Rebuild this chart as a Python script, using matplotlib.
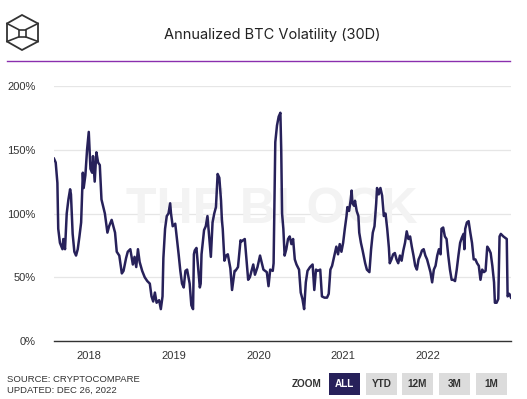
import numpy as np
import matplotlib.pyplot as plt
from matplotlib.patches import Rectangle, Polygon
from matplotlib.lines import Line2D

# data (decimal year, annualized volatility in %)
years = [2017.59, 2017.61, 2017.63, 2017.64, 2017.66, 2017.69, 2017.70, 2017.72, 2017.74, 2017.76,
         2017.78, 2017.79, 2017.80, 2017.81, 2017.83, 2017.85, 2017.87, 2017.89, 2017.91, 2017.93,
         2017.94, 2017.96, 2017.98, 2018.00, 2018.02, 2018.04, 2018.05, 2018.07, 2018.09, 2018.11,
         2018.13, 2018.15, 2018.19, 2018.22, 2018.24, 2018.27, 2018.31, 2018.33, 2018.36, 2018.39,
         2018.41, 2018.44, 2018.46, 2018.49, 2018.52, 2018.54, 2018.56, 2018.58, 2018.60, 2018.63,
         2018.66, 2018.69, 2018.72, 2018.74, 2018.76, 2018.78, 2018.80, 2018.83, 2018.85, 2018.87,
         2018.88, 2018.90, 2018.92, 2018.94, 2018.96, 2018.97, 2018.99, 2019.02, 2019.04, 2019.06,
         2019.08, 2019.10, 2019.12, 2019.14, 2019.16, 2019.19, 2019.21, 2019.23, 2019.24, 2019.25,
         2019.27, 2019.31, 2019.32, 2019.33, 2019.36, 2019.38, 2019.40, 2019.42, 2019.44, 2019.46,
         2019.48, 2019.50, 2019.52, 2019.54, 2019.56, 2019.57, 2019.58, 2019.60, 2019.62, 2019.64,
         2019.67, 2019.69, 2019.72, 2019.73, 2019.76, 2019.79, 2019.80, 2019.84, 2019.88, 2019.90,
         2019.94, 2019.96, 2019.99, 2020.02, 2020.06, 2020.10, 2020.12, 2020.14, 2020.17, 2020.18,
         2020.20, 2020.22, 2020.24, 2020.26, 2020.27, 2020.28, 2020.295, 2020.31, 2020.33, 2020.35,
         2020.37, 2020.39, 2020.41, 2020.43, 2020.45, 2020.48, 2020.50, 2020.52, 2020.54, 2020.56,
         2020.58, 2020.61, 2020.64, 2020.66, 2020.68, 2020.70, 2020.73, 2020.75, 2020.78, 2020.81,
         2020.83, 2020.85, 2020.87, 2020.89, 2020.92, 2020.94, 2020.96, 2020.98, 2021.00, 2021.02,
         2021.04, 2021.05, 2021.07, 2021.09, 2021.10, 2021.11, 2021.13, 2021.14, 2021.16, 2021.18,
         2021.19, 2021.21, 2021.23, 2021.26, 2021.28, 2021.31, 2021.33, 2021.35, 2021.37, 2021.39,
         2021.40, 2021.42, 2021.44, 2021.46, 2021.48, 2021.50, 2021.52, 2021.54, 2021.55, 2021.57,
         2021.59, 2021.61, 2021.63, 2021.65, 2021.67, 2021.69, 2021.71, 2021.73, 2021.75, 2021.77,
         2021.79, 2021.81, 2021.83, 2021.85, 2021.87, 2021.89, 2021.91, 2021.93, 2021.95, 2021.97,
         2021.99, 2022.01, 2022.03, 2022.05, 2022.07, 2022.09, 2022.11, 2022.13, 2022.15, 2022.16,
         2022.18, 2022.20, 2022.22, 2022.24, 2022.26, 2022.28, 2022.30, 2022.32, 2022.34, 2022.36,
         2022.38, 2022.40, 2022.42, 2022.43, 2022.44, 2022.46, 2022.48, 2022.50, 2022.52, 2022.54,
         2022.56, 2022.58, 2022.60, 2022.62, 2022.64, 2022.66, 2022.68, 2022.70, 2022.72, 2022.74,
         2022.76, 2022.78, 2022.79, 2022.81, 2022.83, 2022.845, 2022.86, 2022.89, 2022.93, 2022.94,
         2022.96, 2022.98]

vol = [143, 140, 124, 88, 77, 72, 80, 72, 100, 111,
       119, 115, 100, 84, 70, 67, 72, 82, 93, 132,
       120, 130, 150, 164, 135, 132, 145, 125, 148, 140,
       138, 111, 100, 85, 90, 95, 85, 70, 67, 53,
       55, 65, 70, 72, 60, 66, 58, 72, 62, 55,
       50, 47, 45, 35, 31, 38, 30, 32, 25, 35,
       65, 88, 98, 100, 108, 100, 90, 92, 80, 68,
       55, 45, 42, 55, 56, 45, 28, 25, 68, 71,
       73, 42, 45, 68, 87, 90, 98, 82, 66, 93,
       100, 105, 131, 128, 110, 95, 88, 63, 67, 68,
       57, 40, 55, 55, 58, 79, 78, 80, 48, 50,
       60, 52, 58, 67, 56, 54, 43, 56, 55, 61,
       156, 169, 176, 179, 150, 100, 88, 67, 72, 80,
       82, 76, 80, 64, 60, 56, 38, 33, 25, 46,
       55, 58, 60, 40, 56, 55, 56, 35, 34, 34,
       37, 56, 59, 65, 74, 68, 76, 70, 77, 88,
       98, 105, 102, 111, 118, 108, 106, 110, 102, 98,
       85, 77, 71, 61, 56, 54, 72, 85, 90, 108,
       120, 115, 120, 114, 98, 100, 88, 73, 61, 64,
       68, 69, 64, 61, 67, 63, 71, 77, 86, 80,
       82, 74, 67, 59, 56, 64, 67, 71, 72, 67,
       64, 59, 54, 46, 56, 59, 67, 72, 68, 88,
       89, 82, 80, 67, 56, 48, 48, 47, 56, 67,
       77, 81, 84, 72, 88, 93, 94, 85, 77, 64,
       64, 61, 59, 48, 56, 54, 55, 74, 72, 69,
       59, 46, 30, 30, 33, 82, 84, 82, 80, 35,
       37, 34]

year_ticks = [2018, 2019, 2020, 2021, 2022]
pct_ticks = [0, 50, 100, 150, 200]

W, H = 527, 399


def fx(px):
    return px / W


def fy(py):
    return 1 - py / H


fig = plt.figure(figsize=(W / 100, H / 100), dpi=100)
plt.rcParams['font.family'] = ['Liberation Sans', 'DejaVu Sans']

ax = fig.add_axes([fx(54), fy(341), fx(511) - fx(54), fy(86) - fy(341)])
ax.set_xlim(2017.59, 2022.98)
ax.set_ylim(0, 200)

# watermark, behind the line
ax.text(fx(272), fy(210), 'THE BLOCK', transform=fig.transFigure, fontsize=36,
        fontweight='bold', color='#f3f3f3', ha='center', va='center', zorder=1)

ax.plot(years, vol, color='#27215a', linewidth=1.8, solid_joinstyle='round', zorder=3)

ax.set_yticks(pct_ticks)
ax.set_yticklabels(['%d%%' % p for p in pct_ticks])
ax.set_xticks(year_ticks)
ax.set_xticklabels([str(y) for y in year_ticks])
ax.tick_params(axis='both', length=0, labelsize=8, colors='#333333')
ax.tick_params(axis='y', pad=13)
ax.tick_params(axis='x', pad=7)
ax.grid(axis='y', color='#e6e6e6', linewidth=0.9)
ax.set_axisbelow(True)
for s in ['top', 'right', 'left']:
    ax.spines[s].set_visible(False)
ax.spines['bottom'].set_color('#333333')
ax.spines['bottom'].set_linewidth(1.0)
ax.spines['bottom'].set_zorder(4)

# header
fig.text(fx(272), fy(35), 'Annualized BTC Volatility (30D)', fontsize=10.5,
         color='#222222', ha='center', va='center', family=['Inter', 'DejaVu Sans'])
fig.add_artist(Line2D([fx(7), fx(510)], [fy(61), fy(61)], color='#8a2fae', linewidth=1.0))

# logo
hexpts = [(22, 15), (38, 23.5), (38, 41.5), (22, 50), (7, 41.5), (7, 23.5)]
fig.add_artist(Polygon([(fx(a), fy(b)) for a, b in hexpts], closed=True, fill=False,
                       edgecolor='#333333', linewidth=1.3))
sq = [(18.5, 29.5), (26, 29.5), (26, 37), (18.5, 37)]
fig.add_artist(Polygon([(fx(a), fy(b)) for a, b in sq], closed=True, fill=False,
                       edgecolor='#333333', linewidth=1.2))
for (a, b), (c, d) in zip([(7, 23.5), (38, 23.5), (38, 41.5), (7, 41.5)], sq):
    fig.add_artist(Line2D([fx(a), fx(c)], [fy(b), fy(d)], color='#333333', linewidth=1.2))

# footer
fig.text(fx(7), fy(380), 'SOURCE: CRYPTOCOMPARE', fontsize=6.8, color='#333333', va='center')
fig.text(fx(7), fy(390), 'UPDATED: DEC 26, 2022', fontsize=6.8, color='#333333', va='center')
fig.text(fx(307), fy(384), 'ZOOM', fontsize=7.2, fontweight='bold', color='#333333',
         ha='center', va='center')

buttons = ['ALL', 'YTD', '12M', '3M', '1M']
btn_x = [329, 366, 402, 439, 476]
for i, (lab, bx) in enumerate(zip(buttons, btn_x)):
    face = '#27215a' if i == 0 else '#dcdcdc'
    tcol = 'white' if i == 0 else '#333333'
    fig.add_artist(Rectangle((fx(bx), fy(395)), fx(31), fy(373) - fy(395),
                             facecolor=face, edgecolor='none'))
    fig.text(fx(bx + 15.5), fy(384), lab, fontsize=7.2, fontweight='bold', color=tcol,
             ha='center', va='center')

fig.savefig('out.png', dpi=100)
